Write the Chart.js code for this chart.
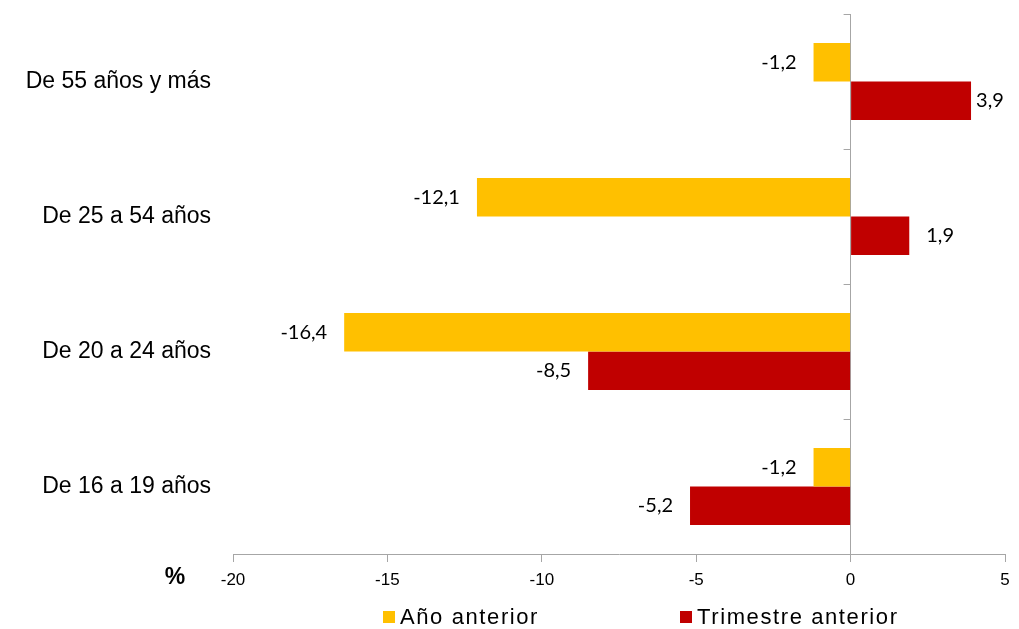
<!DOCTYPE html>
<html>
<head>
<meta charset="utf-8">
<script src="https://cdn.jsdelivr.net/npm/chart.js"></script>
<style>
  html, body { margin: 0; padding: 0; background: #fff; }
  #wrap { width: 1019px; height: 629px; }
</style>
</head>
<body>
<div id="wrap"><canvas id="barChart" width="1019" height="629"></canvas></div>
<script>
// datos
const categorias = ["De 55 años y más", "De 25 a 54 años", "De 20 a 24 años", "De 16 a 19 años"];
const anioAnterior = [-1.2, -12.1, -16.4, -1.2];
const trimestreAnterior = [3.9, 1.9, -8.5, -5.2];
const ticksX = [-20, -15, -10, -5, 0, 5];

const GRIS = "#a6a6a6";

// etiquetas de valor, marcas del eje en cero, leyenda y "%"
const extras = {
  id: "extras",
  afterDatasetsDraw(chart) {
    const ctx = chart.ctx;
    const x = chart.scales.x;
    const area = chart.chartArea;
    const x0 = x.getPixelForValue(0);

    ctx.save();
    ctx.strokeStyle = GRIS;
    ctx.lineWidth = 1;
    const paso = (area.bottom - area.top) / categorias.length;
    for (let i = 0; i <= categorias.length; i++) {
      const yy = Math.round(area.top + i * paso) + 0.5;
      ctx.beginPath();
      ctx.moveTo(x0 - 7, yy);
      ctx.lineTo(x0, yy);
      ctx.stroke();
    }

    // valores
    ctx.font = "20px Lato, 'Open Sans', sans-serif";
    ctx.fillStyle = "#000";
    ctx.textBaseline = "middle";
    chart.data.datasets.forEach((ds, di) => {
      chart.getDatasetMeta(di).data.forEach((bar, i) => {
        const v = ds.data[i];
        const txt = v.toFixed(1).replace(".", ",");
        if (v < 0) {
          ctx.textAlign = "right";
          ctx.fillText(txt, bar.x - 17, bar.y);
        } else {
          ctx.textAlign = "left";
          const w = ctx.measureText(txt).width;
          let px = Math.min(bar.x + 17, chart.width - 17 - w);
          px = Math.max(px, bar.x + 5);
          ctx.fillText(txt, px, bar.y);
        }
      });
    });

    // "%"
    ctx.font = "bold 23px 'Liberation Sans', Arial, sans-serif";
    ctx.textAlign = "center";
    ctx.fillText("%", 175, 578);

    // leyenda
    const posLeyenda = [383, 680];
    ctx.font = "22px 'Liberation Sans', Arial, sans-serif";
    ctx.letterSpacing = "1.6px";
    ctx.textAlign = "left";
    chart.data.datasets.forEach((ds, di) => {
      const lx = posLeyenda[di];
      ctx.fillStyle = ds.backgroundColor;
      ctx.fillRect(lx, 611, 12, 12);
      ctx.fillStyle = "#000";
      ctx.fillText(ds.label, lx + 17, 618);
    });
    ctx.restore();
  }
};

new Chart(document.getElementById("barChart").getContext("2d"), {
  type: "bar",
  data: {
    labels: categorias,
    datasets: [
      {
        label: "Año anterior",
        data: anioAnterior,
        backgroundColor: "#ffc000",
        categoryPercentage: 0.57,
        barPercentage: 1.0,
      },
      {
        label: "Trimestre anterior",
        data: trimestreAnterior,
        backgroundColor: "#c00000",
        categoryPercentage: 0.57,
        barPercentage: 1.0,
      },
    ],
  },
  options: {
    indexAxis: "y",
    responsive: false,
    animation: false,
    devicePixelRatio: 1,
    layout: { padding: { top: 14, right: 14, bottom: 39, left: 0 } },
    plugins: {
      legend: { display: false },
      tooltip: { enabled: false },
    },
    scales: {
      x: {
        min: -20,
        max: 5,
        afterBuildTicks(scale) {
          scale.ticks = ticksX.map((v) => ({ value: v }));
        },
        afterFit(scale) {
          scale.height = 36;
          scale.paddingLeft = 0;
          scale.paddingRight = 0;
        },
        grid: {
          color: (c) => (c.tick && c.tick.value === 0 ? GRIS : "transparent"),
          tickColor: GRIS,
          tickLength: 8,
        },
        border: { display: true, color: GRIS },
        ticks: {
          color: "#000",
          padding: 8,
          maxRotation: 0,
          font: { family: "'Liberation Sans', Arial, sans-serif", size: 17 },
        },
      },
      y: {
        afterFit(scale) {
          scale.width = 233;
          scale.paddingTop = 0;
          scale.paddingBottom = 0;
        },
        grid: { display: false },
        border: { display: false },
        ticks: {
          color: "#000",
          padding: 14,
          font: { family: "'Liberation Sans', Arial, sans-serif", size: 23 },
        },
      },
    },
  },
  plugins: [extras],
});
</script>
</body>
</html>
